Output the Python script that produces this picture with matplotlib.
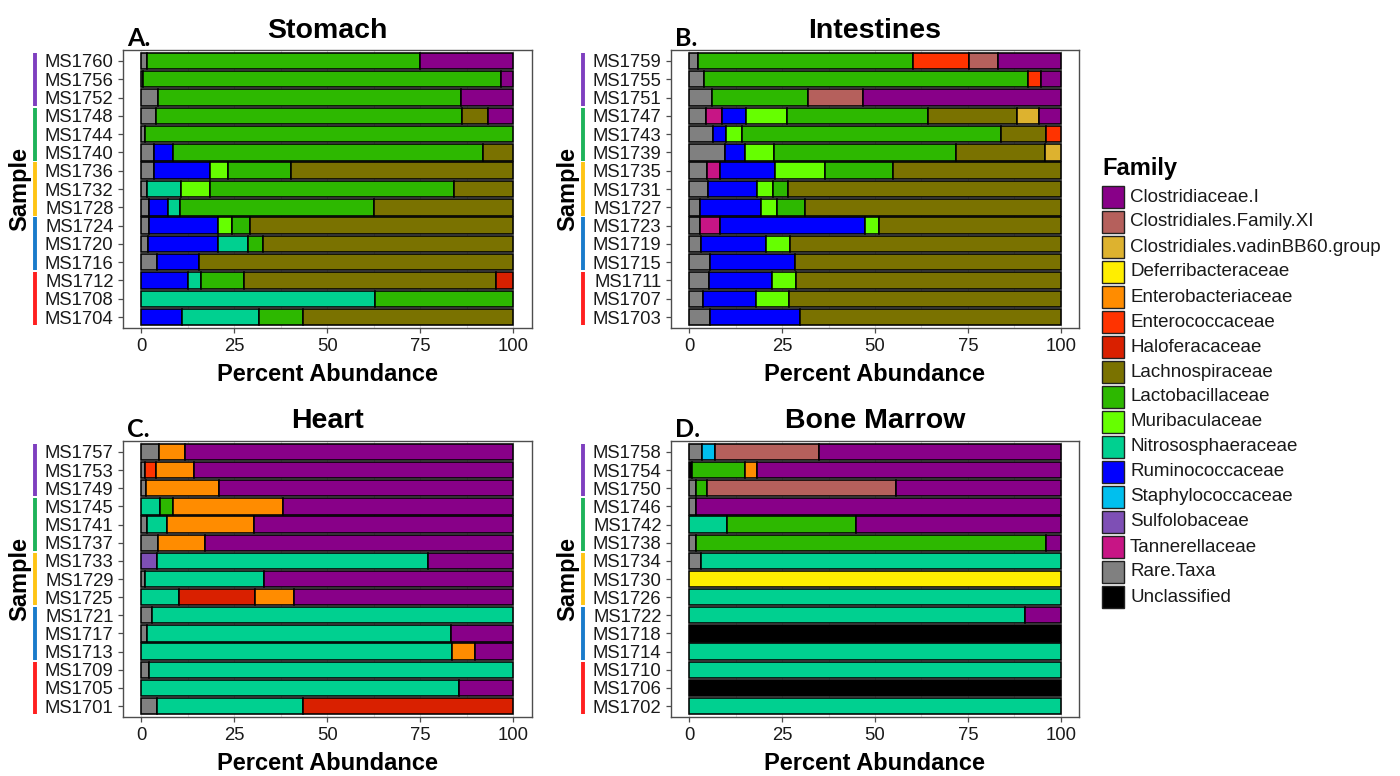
import numpy as np
import matplotlib
matplotlib.use("Agg")
import matplotlib.pyplot as plt
from matplotlib.patches import Rectangle
from matplotlib.transforms import blended_transform_factory

plt.rcParams['font.family'] = ['Liberation Sans', 'DejaVu Sans']

# ---------------- legend / families ----------------
families = ["Clostridiaceae.I", "Clostridiales.Family.XI", "Clostridiales.vadinBB60.group",
            "Deferribacteraceae", "Enterobacteriaceae", "Enterococcaceae", "Haloferacaceae",
            "Lachnospiraceae", "Lactobacillaceae", "Muribaculaceae", "Nitrososphaeraceae",
            "Ruminococcaceae", "Staphylococcaceae", "Sulfolobaceae", "Tannerellaceae",
            "Rare.Taxa", "Unclassified"]
family_colors = ["#880088", "#B5605C", "#DDB22F", "#FFEE00", "#FF8C00", "#FF3300", "#D92000",
                 "#7A7200", "#2DB800", "#66FF00", "#00D090", "#0000FF", "#00BFEE", "#7E4FB5",
                 "#C71585", "#808080", "#000000"]

group_colors = ["#7E3FBF", "#1EB35A", "#FFC414", "#1A7BCB", "#FF1F1F"]

# ---------------- A. Stomach ----------------
stomach_samples = ["MS1760", "MS1756", "MS1752", "MS1748", "MS1744", "MS1740", "MS1736", "MS1732",
                   "MS1728", "MS1724", "MS1720", "MS1716", "MS1712", "MS1708", "MS1704"]
stomach_rare = [1.4, 0.5, 4.5, 4.0, 1.1, 3.5, 3.4, 1.5, 2.0, 2.0, 1.7, 4.1, 0, 0, 0]
stomach_rumino = [0, 0, 0, 0, 0, 5.1, 15.1, 0, 5.2, 18.6, 18.8, 11.4, 12.6, 0, 10.9]
stomach_nitroso = [0, 0, 0, 0, 0, 0, 0, 9.1, 3.3, 0, 8.1, 0, 3.5, 62.9, 20.8]
stomach_muri = [0, 0, 0, 0, 0, 0, 4.9, 7.8, 0, 3.7, 0, 0, 0, 0, 0]
stomach_lacto = [73.6, 96.1, 81.5, 82.2, 98.9, 83.4, 16.8, 65.6, 52.0, 4.8, 4.0, 0, 11.4, 37.1, 11.8]
stomach_lachno = [0, 0, 0, 7.0, 0, 8.0, 59.8, 16.0, 37.5, 70.9, 67.4, 84.5, 68.0, 0, 56.5]
stomach_halo = [0, 0, 0, 0, 0, 0, 0, 0, 0, 0, 0, 0, 4.5, 0, 0]
stomach_clost = [25.0, 3.4, 14.0, 6.8, 0, 0, 0, 0, 0, 0, 0, 0, 0, 0, 0]

# ---------------- B. Intestines ----------------
intest_samples = ["MS1759", "MS1755", "MS1751", "MS1747", "MS1743", "MS1739", "MS1735", "MS1731",
                  "MS1727", "MS1723", "MS1719", "MS1715", "MS1711", "MS1707", "MS1703"]
intest_rare = [2.4, 3.9, 6.2, 4.5, 6.3, 9.7, 4.9, 5.1, 2.9, 3.0, 3.1, 5.7, 5.2, 3.6, 5.5]
intest_tann = [0, 0, 0, 4.2, 0, 0, 3.3, 0, 0, 5.4, 0, 0, 0, 0, 0]
intest_rumino = [0, 0, 0, 6.6, 3.6, 5.3, 15.0, 13.2, 16.3, 38.9, 17.5, 22.8, 17.2, 14.4, 24.3]
intest_muri = [0, 0, 0, 10.9, 4.2, 7.7, 13.3, 4.3, 4.3, 3.8, 6.5, 0, 6.4, 8.9, 0]
intest_lacto = [57.9, 87.2, 25.8, 38.2, 69.7, 49.2, 18.4, 4.0, 7.7, 0, 0, 0, 0, 0, 0]
intest_lachno = [0, 0, 0, 23.9, 12.2, 24.0, 45.1, 73.4, 68.8, 48.9, 72.9, 71.5, 71.2, 73.1, 70.2]
intest_enteroc = [14.9, 3.6, 0, 0, 4.0, 0, 0, 0, 0, 0, 0, 0, 0, 0, 0]
intest_vadin = [0, 0, 0, 5.9, 0, 4.1, 0, 0, 0, 0, 0, 0, 0, 0, 0]
intest_famxi = [7.8, 0, 14.7, 0, 0, 0, 0, 0, 0, 0, 0, 0, 0, 0, 0]
intest_clost = [17.0, 5.3, 53.3, 5.8, 0, 0, 0, 0, 0, 0, 0, 0, 0, 0, 0]

# ---------------- C. Heart ----------------
heart_samples = ["MS1757", "MS1753", "MS1749", "MS1745", "MS1741", "MS1737", "MS1733", "MS1729",
                 "MS1725", "MS1721", "MS1717", "MS1713", "MS1709", "MS1705", "MS1701"]
heart_rare = [4.8, 0.9, 1.2, 0, 1.5, 4.6, 0, 1.1, 0, 2.9, 1.5, 0, 2.2, 0, 4.3]
heart_sulfo = [0, 0, 0, 0, 0, 0, 4.2, 0, 0, 0, 0, 0, 0, 0, 0]
heart_nitroso = [0, 0, 0, 4.9, 5.5, 0, 72.8, 31.8, 10.2, 97.1, 81.9, 83.5, 97.8, 85.3, 39.2]
heart_lacto = [0, 0, 0, 3.5, 0, 0, 0, 0, 0, 0, 0, 0, 0, 0, 0]
heart_halo = [0, 0, 0, 0, 0, 0, 0, 0, 20.4, 0, 0, 0, 0, 0, 56.5]
heart_enteroc = [0, 3.1, 0, 0, 0, 0, 0, 0, 0, 0, 0, 0, 0, 0, 0]
heart_enterob = [6.9, 10.2, 19.6, 29.8, 23.2, 12.6, 0, 0, 10.5, 0, 0, 6.2, 0, 0, 0]
heart_clost = [88.3, 85.8, 79.2, 61.8, 69.8, 82.8, 23.0, 67.1, 58.9, 0, 16.6, 10.3, 0, 14.7, 0]

# ---------------- D. Bone Marrow ----------------
bone_samples = ["MS1758", "MS1754", "MS1750", "MS1746", "MS1742", "MS1738", "MS1734", "MS1730",
                "MS1726", "MS1722", "MS1718", "MS1714", "MS1710", "MS1706", "MS1702"]
bone_uncl = [0, 0.7, 0, 0, 0, 0, 0, 0, 0, 0, 100, 0, 0, 100, 0]
bone_rare = [3.3, 0, 1.7, 1.8, 0, 1.7, 3.2, 0, 0, 0, 0, 0, 0, 0, 0]
bone_staph = [3.7, 0, 0, 0, 0, 0, 0, 0, 0, 0, 0, 0, 0, 0, 0]
bone_nitroso = [0, 0, 0, 0, 10.1, 0, 96.8, 0, 100, 90.5, 0, 100, 100, 0, 100]
bone_lacto = [0, 14.4, 3.1, 0, 34.8, 94.4, 0, 0, 0, 0, 0, 0, 0, 0, 0]
bone_enterob = [0, 3.2, 0, 0, 0, 0, 0, 0, 0, 0, 0, 0, 0, 0, 0]
bone_defer = [0, 0, 0, 0, 0, 0, 0, 100, 0, 0, 0, 0, 0, 0, 0]
bone_famxi = [27.8, 0, 50.9, 0, 0, 0, 0, 0, 0, 0, 0, 0, 0, 0, 0]
bone_clost = [65.2, 81.7, 44.3, 98.2, 55.1, 3.9, 0, 0, 0, 9.5, 0, 0, 0, 0, 0]

panels = [
    ("A.", "Stomach", stomach_samples, {
        "Rare.Taxa": stomach_rare, "Ruminococcaceae": stomach_rumino,
        "Nitrososphaeraceae": stomach_nitroso, "Muribaculaceae": stomach_muri,
        "Lactobacillaceae": stomach_lacto, "Lachnospiraceae": stomach_lachno,
        "Haloferacaceae": stomach_halo, "Clostridiaceae.I": stomach_clost}),
    ("B.", "Intestines", intest_samples, {
        "Rare.Taxa": intest_rare, "Tannerellaceae": intest_tann,
        "Ruminococcaceae": intest_rumino, "Muribaculaceae": intest_muri,
        "Lactobacillaceae": intest_lacto, "Lachnospiraceae": intest_lachno,
        "Enterococcaceae": intest_enteroc, "Clostridiales.vadinBB60.group": intest_vadin,
        "Clostridiales.Family.XI": intest_famxi, "Clostridiaceae.I": intest_clost}),
    ("C.", "Heart", heart_samples, {
        "Rare.Taxa": heart_rare, "Sulfolobaceae": heart_sulfo,
        "Nitrososphaeraceae": heart_nitroso, "Lactobacillaceae": heart_lacto,
        "Haloferacaceae": heart_halo, "Enterococcaceae": heart_enteroc,
        "Enterobacteriaceae": heart_enterob, "Clostridiaceae.I": heart_clost}),
    ("D.", "Bone Marrow", bone_samples, {
        "Unclassified": bone_uncl, "Rare.Taxa": bone_rare,
        "Staphylococcaceae": bone_staph, "Nitrososphaeraceae": bone_nitroso,
        "Lactobacillaceae": bone_lacto, "Enterobacteriaceae": bone_enterob,
        "Deferribacteraceae": bone_defer, "Clostridiales.Family.XI": bone_famxi,
        "Clostridiaceae.I": bone_clost}),
]

W, H = 1400, 776
fig = plt.figure(figsize=(W / 100, H / 100), dpi=100)


def px_rect(left, top, right, bottom):
    return [left / W, 1 - bottom / H, (right - left) / W, (bottom - top) / H]


axes_rects = [
    px_rect(122.7, 50, 531.8, 328),
    px_rect(670.7, 50, 1079.3, 328),
    px_rect(122.7, 441, 531.8, 717),
    px_rect(670.7, 441, 1079.3, 717),
]

stack_order = families[::-1]  # leftmost = last legend level
frame_col = "#4d4d4d"

for (letter, title, samples, data), rect in zip(panels, axes_rects):
    ax = fig.add_axes(rect)
    n = len(samples)
    y = np.arange(n)
    left = np.zeros(n)
    for fam in stack_order:
        if fam not in data:
            continue
        vals = np.array(data[fam], dtype=float)
        col = family_colors[families.index(fam)]
        m = vals > 0
        ax.barh(y[m], vals[m], left=left[m], height=0.9, color=col,
                edgecolor="black", linewidth=1.15, zorder=3)
        left += vals
    ax.set_xlim(-5, 105)
    ax.set_ylim(n - 1 + 0.6, -0.6)
    ax.set_yticks(y)
    ax.set_yticklabels(samples)
    ax.set_xticks([0, 25, 50, 75, 100])
    ax.set_xticks([12.5, 37.5, 62.5, 87.5], minor=True)
    ax.grid(True, axis="x", which="both", color="#dedede", linewidth=0.8, zorder=0)
    ax.tick_params(axis="both", which="major", length=3.6, width=0.9, color=frame_col,
                   labelsize=13.3, pad=3, labelcolor="#1a1a1a")
    ax.tick_params(axis="x", which="major", pad=3.5)
    ax.tick_params(axis="x", which="minor", length=0)
    for sp in ax.spines.values():
        sp.set_color(frame_col)
        sp.set_linewidth(1.0)
    ax.set_xlabel("Percent Abundance", fontsize=17, fontweight="bold", labelpad=5.5)
    ax.set_ylabel("Sample", fontsize=17, fontweight="bold", va="center")
    ax.yaxis.set_label_coords(-0.252, 0.5)
    ax.set_title(title, fontsize=20.5, fontweight="bold", pad=9)
    ax.text(0.011, 1.014, letter, transform=ax.transAxes, ha="left", va="baseline",
            fontsize=18, fontweight="bold", family=["Lato", "DejaVu Sans"])
    # group indicator bars
    tr = blended_transform_factory(ax.transAxes, ax.transData)
    for g, gc in enumerate(group_colors):
        ax.plot([-0.215, -0.215], [3 * g - 0.45, 3 * g + 2 + 0.45], color=gc, lw=2.8,
                solid_capstyle="butt", transform=tr, clip_on=False)

# ---------------- legend ----------------
fig.text(1102 / W, 1 - 168 / H, "Family", fontsize=17, fontweight="bold",
         ha="left", va="center")
for i, (fam, col) in enumerate(zip(families, family_colors)):
    cy = 197 + 25 * i
    fig.add_artist(Rectangle((1102 / W, 1 - (cy + 11) / H), 22 / W, 22 / H,
                             facecolor=col, edgecolor="#222222", linewidth=1.0,
                             transform=fig.transFigure))
    fig.text(1130 / W, 1 - cy / H, fam, fontsize=13.5, ha="left", va="center",
             color="#1a1a1a")

fig.savefig("out.png", dpi=100)
